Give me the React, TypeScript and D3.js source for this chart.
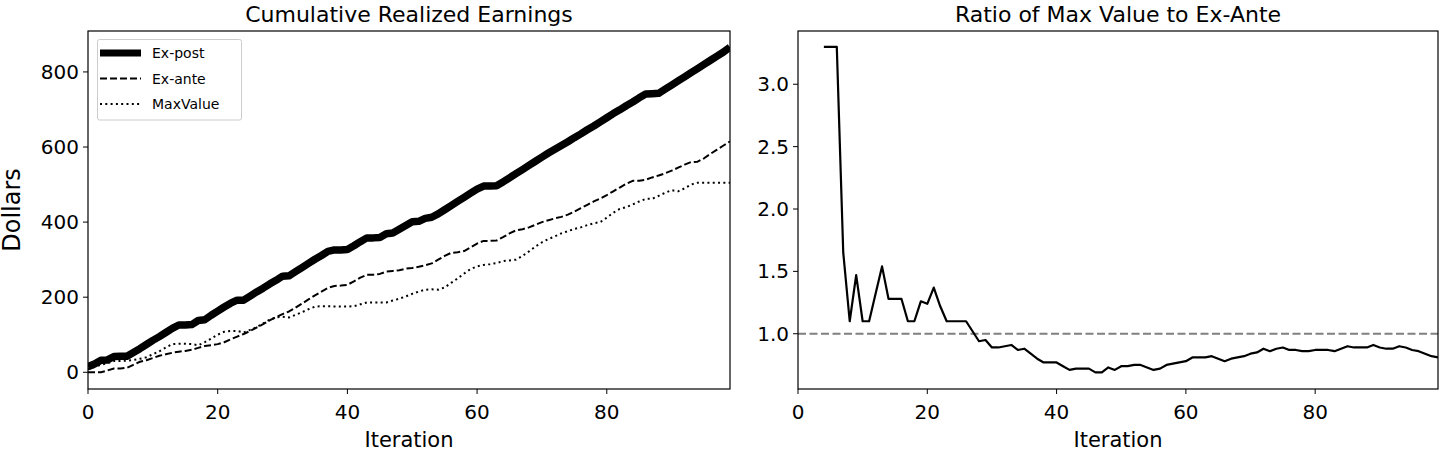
import * as d3 from "d3";

const iterations = d3.range(100);

const exPost = [15, 22, 32, 33, 42, 43, 43, 53, 63, 74, 85, 95, 106, 117, 126, 126, 127, 138, 140, 152,
  163, 174, 184, 192, 192, 203, 214, 224, 235, 245, 256, 257, 268, 279, 290, 301, 311, 322, 326, 326,
  327, 337, 348, 358, 358, 359, 369, 371, 381, 391, 401, 402, 410, 413, 422, 433, 444, 455, 466, 477,
  488, 496, 496, 497, 507, 518, 529, 540, 551, 562, 573, 584, 594, 604, 614, 625, 635, 646, 656, 667,
  678, 689, 699, 710, 720, 731, 741, 742, 743, 754, 765, 776, 787, 798, 809, 820, 831, 842, 853, 866];

const exAnte = [0, 0, 0, 5, 10, 10, 12, 20, 28, 32, 38, 44, 48, 52, 55, 57, 60, 65, 70, 72,
  75, 80, 88, 95, 102, 110, 119, 128, 138, 147, 155, 162, 172, 183, 194, 205, 215, 225, 230, 231,
  233, 242, 252, 260, 260, 262, 268, 270, 272, 276, 278, 281, 285, 290, 300, 310, 318, 320, 323, 333,
  343, 350, 350, 351, 360, 370, 378, 381, 386, 393, 400, 405, 410, 414, 420, 428, 437, 446, 455, 463,
  472, 482, 492, 502, 510, 510, 513, 519, 524, 530, 537, 545, 553, 560, 561, 570, 582, 593, 604, 615];

const maxValue = [8, 14, 20, 24, 30, 30, 31, 33, 36, 40, 48, 56, 66, 75, 76, 76, 75, 72, 80, 90,
  100, 108, 110, 110, 106, 113, 120, 130, 140, 146, 148, 146, 153, 160, 168, 175, 176, 176, 175, 175,
  175, 176, 181, 186, 186, 186, 186, 191, 196, 202, 209, 215, 220, 221, 220, 226, 238, 250, 263, 275,
  282, 286, 288, 291, 296, 298, 300, 310, 322, 335, 346, 355, 362, 370, 376, 382, 386, 392, 397, 400,
  412, 425, 435, 440, 447, 455, 462, 462, 470, 478, 485, 482, 490, 500, 505, 505, 505, 505, 505, 505];

// ratio starts at iteration 4
const ratioStart = 4;
const ratio = [3.30, 3.30, 3.30, 1.65, 1.10, 1.47, 1.10, 1.10, 1.32, 1.54, 1.28, 1.28, 1.28, 1.10, 1.10, 1.26,
  1.24, 1.37, 1.22, 1.10, 1.10, 1.10, 1.10, 1.02, 0.94, 0.95, 0.89, 0.89, 0.90, 0.91, 0.87, 0.88,
  0.84, 0.80, 0.77, 0.77, 0.77, 0.74, 0.71, 0.72, 0.72, 0.72, 0.69, 0.69, 0.73, 0.71, 0.74, 0.74,
  0.75, 0.75, 0.73, 0.71, 0.72, 0.75, 0.76, 0.77, 0.78, 0.81, 0.81, 0.81, 0.82, 0.80, 0.78, 0.80,
  0.81, 0.82, 0.84, 0.85, 0.88, 0.86, 0.88, 0.89, 0.87, 0.87, 0.86, 0.86, 0.87, 0.87, 0.87, 0.86,
  0.88, 0.90, 0.89, 0.89, 0.89, 0.91, 0.89, 0.88, 0.88, 0.90, 0.89, 0.87, 0.86, 0.84, 0.82, 0.81];

const xTicks = [0, 20, 40, 60, 80];
const leftTicks = [0, 200, 400, 600, 800];
const rightTicks = [1.0, 1.5, 2.0, 2.5, 3.0];

const FONT = "DejaVu Sans, sans-serif";
const TOP = 31;
const BOTTOM = 389;

function Frame({ x0, x1, title, xLabel }: { x0: number; x1: number; title: string; xLabel: string }) {
  return (
    <g>
      <rect x={x0} y={TOP} width={x1 - x0} height={BOTTOM - TOP} fill="none" stroke="#000" strokeWidth={1.2} />
      <text x={(x0 + x1) / 2} y={22} textAnchor="middle" fontSize={22} fontFamily={FONT}>{title}</text>
      <text x={(x0 + x1) / 2} y={447} textAnchor="middle" fontSize={21} fontFamily={FONT}>{xLabel}</text>
    </g>
  );
}

export default function App() {
  const xL = d3.scaleLinear().domain([0, 99]).range([88, 730]);
  const yL = d3.scaleLinear().domain([-44.5, 909]).range([BOTTOM, TOP]);
  const xR = d3.scaleLinear().domain([0, 99]).range([798, 1438]);
  const yR = d3.scaleLinear().domain([0.557, 3.427]).range([BOTTOM, TOP]);

  const lineL = (vals: number[]) =>
    d3.line<number>().x((_, i) => xL(iterations[i])).y((d) => yL(d))(vals) ?? "";
  const ratioPath =
    d3.line<number>().x((_, i) => xR(i + ratioStart)).y((d) => yR(d))(ratio) ?? "";

  const legend = [
    { label: "Ex-post", width: 7, dash: "" },
    { label: "Ex-ante", width: 2, dash: "7,3" },
    { label: "MaxValue", width: 2, dash: "2,3.3" },
  ];

  return (
    <svg width={1440} height={450} style={{ position: "absolute", left: 0, top: 0 }}>
      <rect width={1440} height={450} fill="#fff" />
      <defs>
        <clipPath id="clipL"><rect x={88} y={TOP} width={642} height={BOTTOM - TOP} /></clipPath>
        <clipPath id="clipR"><rect x={798} y={TOP} width={640} height={BOTTOM - TOP} /></clipPath>
      </defs>

      {/* left panel */}
      <g clipPath="url(#clipL)" fill="none" stroke="#000" strokeLinejoin="round">
        <path d={lineL(exPost)} strokeWidth={7.5} />
        <path d={lineL(exAnte)} strokeWidth={2} strokeDasharray="7,3" />
        <path d={lineL(maxValue)} strokeWidth={2} strokeDasharray="2,3.3" />
      </g>
      <Frame x0={88} x1={730} title="Cumulative Realized Earnings" xLabel="Iteration" />
      {xTicks.map((t) => (
        <g key={"lx" + t}>
          <line x1={xL(t)} x2={xL(t)} y1={BOTTOM} y2={BOTTOM + 5} stroke="#000" />
          <text x={xL(t)} y={419} textAnchor="middle" fontSize={20} fontFamily={FONT}>{t}</text>
        </g>
      ))}
      {leftTicks.map((t) => (
        <g key={"ly" + t}>
          <line x1={83} x2={88} y1={yL(t)} y2={yL(t)} stroke="#000" />
          <text x={79} y={yL(t) + 7} textAnchor="end" fontSize={20} fontFamily={FONT}>{t}</text>
        </g>
      ))}
      <text transform={`translate(20,${(TOP + BOTTOM) / 2}) rotate(-90)`} textAnchor="middle" fontSize={24} fontFamily={FONT}>Dollars</text>

      <rect x={97.5} y={39.5} width={144} height={80.5} rx={2} fill="#fff" fillOpacity={0.8} stroke="#ccc" />
      {legend.map((e, i) => (
        <g key={e.label}>
          <line x1={100} x2={141} y1={53 + i * 25.5} y2={53 + i * 25.5} stroke="#000" strokeWidth={e.width} strokeDasharray={e.dash} />
          <text x={152} y={58 + i * 25.5} fontSize={14} fontFamily={FONT}>{e.label}</text>
        </g>
      ))}

      {/* right panel */}
      <g clipPath="url(#clipR)" fill="none">
        <line x1={798} x2={1438} y1={yR(1)} y2={yR(1)} stroke="#808080" strokeWidth={2.2} strokeDasharray="8,3.5" />
        <path d={ratioPath} stroke="#000" strokeWidth={2.2} strokeLinejoin="round" />
      </g>
      <Frame x0={798} x1={1438} title="Ratio of Max Value to Ex-Ante" xLabel="Iteration" />
      {xTicks.map((t) => (
        <g key={"rx" + t}>
          <line x1={xR(t)} x2={xR(t)} y1={BOTTOM} y2={BOTTOM + 5} stroke="#000" />
          <text x={xR(t)} y={419} textAnchor="middle" fontSize={20} fontFamily={FONT}>{t}</text>
        </g>
      ))}
      {rightTicks.map((t) => (
        <g key={"ry" + t}>
          <line x1={793} x2={798} y1={yR(t)} y2={yR(t)} stroke="#000" />
          <text x={789} y={yR(t) + 7} textAnchor="end" fontSize={20} fontFamily={FONT}>{t.toFixed(1)}</text>
        </g>
      ))}
    </svg>
  );
}
